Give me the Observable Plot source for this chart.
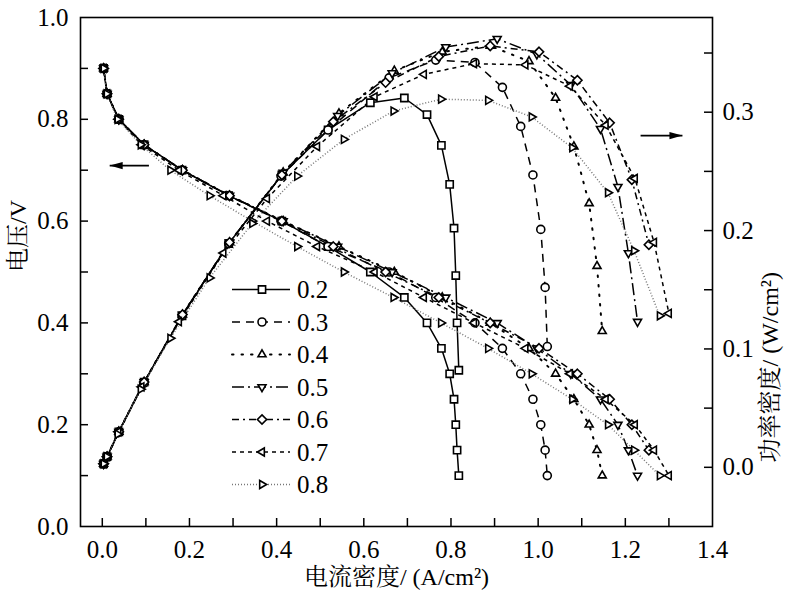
<!DOCTYPE html>
<html><head><meta charset="utf-8">
<script src="https://cdn.jsdelivr.net/npm/d3@7"></script>
<script src="https://cdn.jsdelivr.net/npm/@observablehq/plot@0.6"></script>
<style>
body{margin:0;background:#fff;}
#chart{width:792px;height:597px;}
</style>
</head><body><div id="chart"></div>
<script>
// ---------- data ----------
const voltages = [0.9,0.85,0.8,0.75,0.7,0.65,0.6,0.55,0.5,0.45,0.4,0.35,0.3,0.25,0.2,0.15,0.1];
const seriesNames = ["0.2","0.3","0.4","0.5","0.6","0.7","0.8"];

const current02 = [0.003,0.011,0.038,0.096,0.183,0.290,0.412,0.518,0.615,0.693,0.745,0.778,0.797,0.807,0.811,0.814,0.818];
const current03 = [0.003,0.011,0.038,0.095,0.183,0.290,0.410,0.518,0.658,0.765,0.855,0.918,0.960,0.988,1.006,1.016,1.021];
const current04 = [0.003,0.011,0.038,0.096,0.184,0.292,0.415,0.543,0.670,0.780,0.890,0.979,1.040,1.082,1.117,1.135,1.147];
const current05 = [0.003,0.011,0.038,0.096,0.184,0.292,0.415,0.540,0.665,0.788,0.906,0.997,1.075,1.143,1.183,1.207,1.228];
const current06 = [0.003,0.011,0.038,0.096,0.184,0.292,0.412,0.530,0.650,0.772,0.890,1.002,1.090,1.164,1.215,1.254];
const current07 = [0.003,0.011,0.037,0.090,0.176,0.278,0.378,0.493,0.625,0.738,0.853,0.971,1.073,1.155,1.222,1.266,1.300];
const current08 = [0.003,0.010,0.035,0.088,0.156,0.246,0.344,0.447,0.554,0.668,0.777,0.885,0.985,1.078,1.160,1.220,1.279];

const power02 = [0.003,0.009,0.030,0.072,0.128,0.189,0.247,0.285,0.308,0.312,0.298,0.272,0.239,0.202,0.162,0.122,0.082];
const power03 = [0.003,0.009,0.030,0.071,0.128,0.189,0.246,0.285,0.329,0.344,0.342,0.321,0.288,0.247,0.201,0.152,0.102];
const power04 = [0.003,0.009,0.030,0.072,0.129,0.190,0.249,0.299,0.335,0.351,0.356,0.343,0.312,0.271,0.223,0.170,0.115];
const power05 = [0.003,0.009,0.030,0.072,0.129,0.190,0.249,0.297,0.333,0.355,0.362,0.349,0.323,0.286,0.237,0.181,0.123];
const power06 = [0.003,0.009,0.030,0.072,0.129,0.190,0.247,0.292,0.325,0.347,0.356,0.351,0.327,0.291,0.243,0.188];
const power07 = [0.003,0.009,0.030,0.068,0.123,0.181,0.227,0.271,0.313,0.332,0.341,0.340,0.322,0.289,0.244,0.190,0.130];
const power08 = [0.003,0.009,0.028,0.066,0.109,0.160,0.206,0.246,0.277,0.301,0.311,0.310,0.296,0.270,0.232,0.183,0.128];

const xTickLabels = [0.0,0.2,0.4,0.6,0.8,1.0,1.2,1.4];
const leftTickLabels = [0.0,0.2,0.4,0.6,0.8,1.0];
const rightTickLabels = [0.0,0.1,0.2,0.3];
const xTitle = "电流密度/ (A/cm²)";
const leftTitle = "电压/V";
const rightTitle = "功率密度/ (W/cm²)";
// annotation arrows (data units: current, voltage)
const arrowNotes = [
  {x1: 0.107, x2: 0.017, y: 0.709, dir: "left"},
  {x1: 1.235, x2: 1.331, y: 0.768, dir: "right"}
];

// ---------- scales / helpers ----------
const xDomain = [-0.05, 1.4];
const vDomain = [0, 1.0];
const pDomain = [-0.05, 0.38];
const toV = p => (p - pDomain[0]) / (pDomain[1] - pDomain[0]) * (vDomain[1] - vDomain[0]) + vDomain[0];
const fromV = v => (v - vDomain[0]) / (vDomain[1] - vDomain[0]) * (pDomain[1] - pDomain[0]) + pDomain[0];

const mk = pts => ({draw(ctx, size){
  const r = Math.sqrt(size / Math.PI);
  ctx.moveTo(pts[0][0]*r, pts[0][1]*r);
  for (let k = 1; k < pts.length; k++) ctx.lineTo(pts[k][0]*r, pts[k][1]*r);
  ctx.closePath();
}});
const symSquare = mk([[-0.9,-0.9],[0.9,-0.9],[0.9,0.9],[-0.9,0.9]]);
const symUp = mk([[0,-1.15],[1.0,0.58],[-1.0,0.58]]);
const symDown = mk([[0,1.15],[1.0,-0.58],[-1.0,-0.58]]);
const symDiamond = mk([[0,-1.15],[1.15,0],[0,1.15],[-1.15,0]]);
const symLeft = mk([[-1.15,0],[0.58,-1.0],[0.58,1.0]]);
const symRight = mk([[1.15,0],[-0.58,-1.0],[-0.58,1.0]]);
const headLeft = {draw(ctx){ ctx.moveTo(0,0); ctx.lineTo(13,-3.6); ctx.lineTo(13,3.6); ctx.closePath(); }};
const headRight = {draw(ctx){ ctx.moveTo(0,0); ctx.lineTo(-13,-3.6); ctx.lineTo(-13,3.6); ctx.closePath(); }};

const styles = {
  "0.2": {symbol: symSquare, dash: null, stroke: "#000", width: 1.5},
  "0.3": {symbol: "circle", dash: "8,6", stroke: "#000", width: 1.5},
  "0.4": {symbol: symUp, dash: "1.5,8", stroke: "#000", width: 2},
  "0.5": {symbol: symDown, dash: "12,4,2,4", stroke: "#000", width: 1.5},
  "0.6": {symbol: symDiamond, dash: "7,4,2,4", stroke: "#000", width: 1.5},
  "0.7": {symbol: symLeft, dash: "4,4", stroke: "#000", width: 1.5},
  "0.8": {symbol: symRight, dash: "1,2", stroke: "#777", width: 1.5}
};

const currents = [current02,current03,current04,current05,current06,current07,current08];
const powers = [power02,power03,power04,power05,power06,power07,power08];
const bySeries = seriesNames.map((s, j) => currents[j].map((c, k) => ({
  s, i: c, v: voltages[k], pv: toV(powers[j][k])
})));

const W = 792, H = 597, mL = 80, mR = 80, mT = 17, mB = 71;
const plotW = W - mL - mR, plotH = H - mT - mB;
const tickLen = 8;
const fontStack = "'Liberation Serif', 'Noto Serif CJK SC', serif";

const leftMinor = d3.range(1, 10).map(k => k / 10);
const rightMinor = d3.range(0, 8).map(k => toV(k * 0.05));
const bottomMinor = d3.range(0, 14).map(k => k / 10);

const marks = [];
seriesNames.forEach((s, j) => {
  const st = styles[s];
  const lo = {x: "i", stroke: st.stroke, strokeWidth: st.width, strokeDasharray: st.dash, strokeLinecap: st.dash === "1.5,8" ? "round" : "butt"};
  marks.push(Plot.line(bySeries[j], {...lo, y: "v"}));
  marks.push(Plot.line(bySeries[j], {...lo, y: "pv"}));
});
seriesNames.forEach((s, j) => {
  const st = styles[s];
  const dox = {x: "i", symbol: st.symbol, r: 4, fill: "white", stroke: "black", strokeWidth: 1.6};
  marks.push(Plot.dot(bySeries[j], {...dox, y: "v"}));
  marks.push(Plot.dot(bySeries[j], {...dox, y: "pv"}));
});

const svg = Plot.plot({
  width: W, height: H,
  marginLeft: mL, marginRight: mR, marginTop: mT, marginBottom: mB,
  style: {fontSize: "25px", color: "black", background: "white"},
  x: {domain: xDomain, label: null},
  y: {domain: vDomain, label: null},
  marks: [
    ...marks,
    Plot.ruleY(leftMinor, {insetRight: plotW - tickLen, stroke: "black", strokeWidth: 1.5}),
    Plot.ruleY(rightMinor, {insetLeft: plotW - tickLen, stroke: "black", strokeWidth: 1.5}),
    Plot.ruleX(bottomMinor, {insetTop: plotH - tickLen, stroke: "black", strokeWidth: 1.5}),
    Plot.frame({stroke: "black", strokeWidth: 1.6}),
    Plot.axisX({ticks: xTickLabels, tickFormat: d => d.toFixed(1), tickSize: 0, tickPadding: 14, label: null, fontSize: 25}),
    Plot.axisY({anchor: "left", ticks: leftTickLabels, tickFormat: d => d.toFixed(1), tickSize: 0, tickPadding: 12, label: null, fontSize: 25}),
    Plot.axisY({anchor: "right", ticks: rightTickLabels.map(toV), tickFormat: v => { const p = Math.round(fromV(v) * 100) / 100; return (p === 0 ? 0 : p).toFixed(1); }, tickSize: 0, tickPadding: 10, label: null, fontSize: 25}),
    Plot.text([xTitle], {frameAnchor: "bottom", dy: 51, lineAnchor: "middle", text: d => d, fontSize: 24}),
    Plot.text([leftTitle], {frameAnchor: "left", dx: -62, rotate: -90, lineAnchor: "middle", text: d => d, fontSize: 24}),
    Plot.text([rightTitle], {frameAnchor: "right", dx: 58, rotate: -90, lineAnchor: "middle", text: d => d, fontSize: 24}),
    Plot.link(arrowNotes, {x1: "x1", x2: "x2", y1: "y", y2: "y", stroke: "black", strokeWidth: 1.8}),
    Plot.dot(arrowNotes.filter(d => d.dir === "left"), {x: "x2", y: "y", symbol: headLeft, r: 5, fill: "black", stroke: "none"}),
    Plot.dot(arrowNotes.filter(d => d.dir === "right"), {x: "x2", y: "y", symbol: headRight, r: 5, fill: "black", stroke: "none"})
  ]
});
document.getElementById("chart").appendChild(svg);

// ---------- legend (inside plot area) ----------
const lg = d3.select(svg).append("g").attr("class", "legend").attr("text-anchor", "start");
const lgX0 = 232, lgX1 = 290, lgMk = 262, lgTx = 297, lgY0 = 289.5, lgDy = 32.5;
seriesNames.forEach((s, k) => {
  const st = styles[s];
  const y = lgY0 + k * lgDy;
  lg.append("line").attr("x1", lgX0).attr("x2", lgX1).attr("y1", y).attr("y2", y)
    .attr("stroke", st.stroke).attr("stroke-width", st.width)
    .attr("stroke-dasharray", st.dash)
    .attr("stroke-linecap", st.dash === "1.5,8" ? "round" : "butt");
  const type = st.symbol === "circle" ? d3.symbolCircle : st.symbol;
  lg.append("path").attr("d", d3.symbol(type, 16 * Math.PI)())
    .attr("transform", `translate(${lgMk},${y})`)
    .attr("fill", "white").attr("stroke", "black").attr("stroke-width", 1.6);
  lg.append("text").attr("x", lgTx).attr("y", y).attr("dy", "0.35em")
    .attr("text-anchor", "start")
    .attr("font-size", 25).attr("fill", "black").text(s);
});

// force the serif face on every text element
svg.setAttribute("font-family", "Liberation Serif");
svg.style.fontFamily = fontStack;
d3.select(svg).selectAll("g, text").attr("font-family", "Liberation Serif").style("font-family", fontStack);
</script>
</body></html>
